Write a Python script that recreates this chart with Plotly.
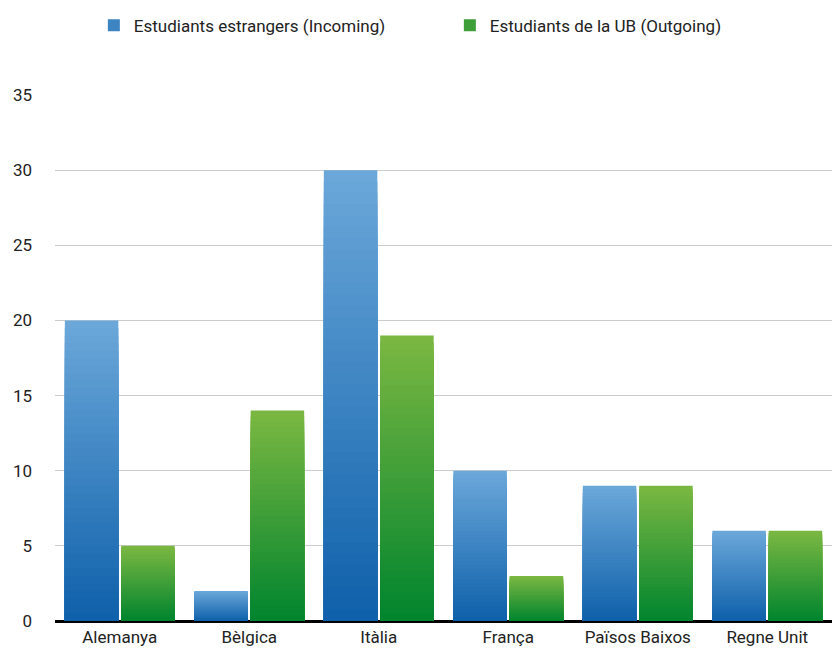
import plotly.graph_objects as go

categories = ["Alemanya", "Bèlgica", "Itàlia", "França", "Països Baixos", "Regne Unit"]
incoming = [20, 2, 30, 10, 9, 6]
outgoing = [5, 14, 19, 3, 9, 6]
series_names = ["Estudiants estrangers (Incoming)", "Estudiants de la UB (Outgoing)"]
y_ticks = [0, 5, 10, 15, 20, 25, 30, 35]

# gradient colours (bottom, top)
blue_grad = ((14, 96, 170), (108, 168, 218))
green_grad = ((0, 132, 46), (124, 184, 66))

N = 40


def lerp(c0, c1, t):
    return "rgb(%d,%d,%d)" % tuple(round(a + (b - a) * t) for a, b in zip(c0, c1))


fig = go.Figure()
for name, vals, grad in [(series_names[0], incoming, blue_grad), (series_names[1], outgoing, green_grad)]:
    # legend-only entry
    fig.add_trace(go.Bar(x=categories, y=[0] * len(vals), name=name, offsetgroup=name,
                         marker=dict(color=lerp(grad[0], grad[1], 0.5), line=dict(width=0)),
                         showlegend=True, hoverinfo="skip"))
    for k in range(N, 0, -1):
        t = (k - 0.5) / N
        fig.add_trace(go.Bar(
            x=categories, y=[v * k / N for v in vals], offsetgroup=name,
            marker=dict(color=lerp(grad[0], grad[1], t), line=dict(width=0)),
            showlegend=False, hoverinfo="skip" if k != N else "y", name=name))

fig.update_layout(
    width=832, height=650,
    barmode="group", bargap=0.13, bargroupgap=0.05,
    paper_bgcolor="white", plot_bgcolor="white",
    margin=dict(l=55, r=0, t=95, b=29),
    font=dict(family="Roboto, sans-serif", size=17, color="#222"),
    legend=dict(orientation="h", x=0.1128, xanchor="left", xref="container",
                y=0.988, yanchor="top", yref="container",
                font=dict(size=17), traceorder="normal", entrywidth=311),
    xaxis=dict(showgrid=False, ticks="", showline=True, linecolor="black", linewidth=2),
    yaxis=dict(range=[0, 35], tickvals=y_ticks, showgrid=True, gridcolor="#cccccc",
               gridwidth=1, zeroline=True, zerolinecolor="black", zerolinewidth=2,
               ticks="", ticklabelstandoff=22),
)
fig.write_html("out.html", config={"displayModeBar": False},
               post_script="document.body.style.margin='0';document.body.style.overflow='hidden';")
